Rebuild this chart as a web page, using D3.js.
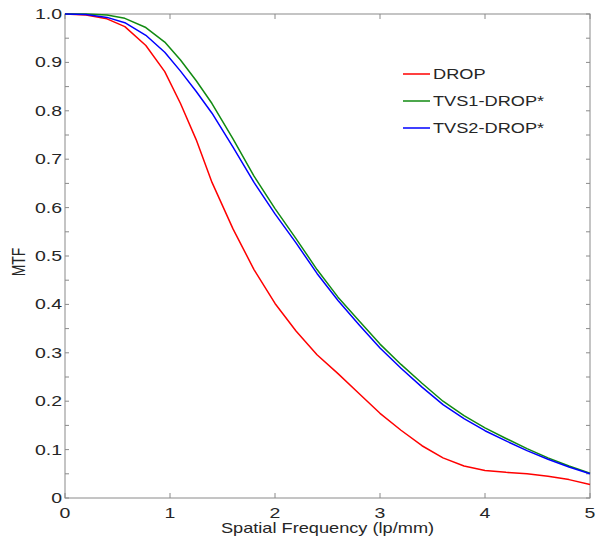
<!DOCTYPE html>
<html>
<head>
<meta charset="utf-8">
<script src="https://cdn.jsdelivr.net/npm/d3@7"></script>
<style>
  body { margin: 0; background: #fff; }
  text { font-family: "Liberation Sans", Arial, sans-serif; fill: #262626; }
</style>
</head>
<body>
<script>
// spatial frequency samples (lp/mm)
var freq = [0, 0.2, 0.4, 0.57, 0.77, 0.95, 1.1, 1.25, 1.4, 1.6, 1.8, 2.0, 2.2, 2.4, 2.6, 2.8, 3.0, 3.2, 3.4, 3.6, 3.8, 4.0, 4.2, 4.4, 4.6, 4.8, 5.0];
// MTF values
var drop = [1.0, 0.998, 0.99, 0.974, 0.935, 0.881, 0.815, 0.74, 0.652, 0.556, 0.472, 0.402, 0.345, 0.296, 0.257, 0.216, 0.175, 0.14, 0.108, 0.083, 0.066, 0.057, 0.053, 0.05, 0.045, 0.038, 0.028];
var tvs1 = [1.0, 1.0, 0.998, 0.991, 0.972, 0.942, 0.905, 0.862, 0.815, 0.742, 0.665, 0.598, 0.536, 0.472, 0.415, 0.366, 0.318, 0.276, 0.237, 0.2, 0.17, 0.145, 0.123, 0.102, 0.083, 0.066, 0.051];
var tvs2 = [1.0, 0.999, 0.993, 0.982, 0.956, 0.921, 0.882, 0.84, 0.795, 0.725, 0.652, 0.587, 0.527, 0.464, 0.408, 0.358, 0.31, 0.268, 0.229, 0.193, 0.164, 0.139, 0.118, 0.098, 0.08, 0.064, 0.05];
var seriesNames = ["DROP", "TVS1-DROP*", "TVS2-DROP*"];
var seriesColors = ["#ff0000", "#118a11", "#0000ff"];
var xTicks = [0, 1, 2, 3, 4, 5];
var yTickLabels = ["0", "0.1", "0.2", "0.3", "0.4", "0.5", "0.6", "0.7", "0.8", "0.9", "1.0"];

var width = 597, height = 546;
var plotLeft = 65, plotRight = 590, plotTop = 14, plotBottom = 498;
var sx = 1.3; // picture is stretched sideways

var svg = d3.select("body").append("svg")
    .attr("width", width)
    .attr("height", height);

var x = d3.scaleLinear().domain([0, 5]).range([plotLeft, plotRight]);
var y = d3.scaleLinear().domain([0, 1]).range([plotBottom, plotTop]);

// frame
svg.append("rect")
    .attr("x", plotLeft).attr("y", plotTop)
    .attr("width", plotRight - plotLeft).attr("height", plotBottom - plotTop)
    .attr("fill", "none")
    .attr("stroke", "#8a8a8a")
    .attr("stroke-width", 1);

// y ticks every 0.05, inward on both sides
var yMinor = d3.range(0, 21).map(function (i) { return i * 0.05; });
yMinor.forEach(function (v) {
    svg.append("line").attr("x1", plotLeft).attr("x2", plotLeft + 4)
        .attr("y1", y(v)).attr("y2", y(v)).attr("stroke", "#8a8a8a");
    svg.append("line").attr("x1", plotRight - 4).attr("x2", plotRight)
        .attr("y1", y(v)).attr("y2", y(v)).attr("stroke", "#8a8a8a");
});
// x ticks
xTicks.forEach(function (v) {
    svg.append("line").attr("x1", x(v)).attr("x2", x(v))
        .attr("y1", plotBottom).attr("y2", plotBottom - 5).attr("stroke", "#8a8a8a");
    svg.append("line").attr("x1", x(v)).attr("x2", x(v))
        .attr("y1", plotTop).attr("y2", plotTop + 5).attr("stroke", "#8a8a8a");
});

// tick labels
yTickLabels.forEach(function (t, i) {
    svg.append("text")
        .attr("transform", "translate(" + (plotLeft - 3) + "," + (y(i / 10) + 5) + ") scale(" + sx + ",1)")
        .attr("text-anchor", "end")
        .style("font-size", "15px")
        .text(t);
});
xTicks.forEach(function (v) {
    svg.append("text")
        .attr("transform", "translate(" + x(v) + ",518) scale(" + sx + ",1)")
        .attr("text-anchor", "middle")
        .style("font-size", "15px")
        .text(v);
});

// axis titles
svg.append("text")
    .attr("transform", "translate(" + ((plotLeft + plotRight) / 2) + ",533) scale(" + sx + ",1)")
    .attr("text-anchor", "middle")
    .style("font-size", "14px")
    .text("Spatial Frequency (lp/mm)");
svg.append("text")
    .attr("transform", "translate(25," + ((plotTop + plotBottom) / 2 + 6) + ") scale(" + sx + ",1) rotate(-90)")
    .attr("text-anchor", "middle")
    .style("font-size", "14px")
    .text("MTF");

// curves
var line = d3.line()
    .x(function (d) { return x(d[0]); })
    .y(function (d) { return y(d[1]); });
[drop, tvs1, tvs2].forEach(function (vals, k) {
    svg.append("path")
        .datum(freq.map(function (f, i) { return [f, vals[i]]; }))
        .attr("d", line)
        .attr("fill", "none")
        .attr("stroke", seriesColors[k])
        .attr("stroke-width", 1.5)
        .attr("stroke-linejoin", "round");
});

// legend
var legend = svg.append("g");
seriesNames.forEach(function (name, k) {
    var ly = 74 + k * 27;
    legend.append("line")
        .attr("x1", 403).attr("x2", 430)
        .attr("y1", ly).attr("y2", ly)
        .attr("stroke", seriesColors[k])
        .attr("stroke-width", 1.5);
    legend.append("text")
        .attr("transform", "translate(433," + (ly + 5) + ") scale(" + sx + ",1)")
        .style("font-size", "14px")
        .text(name);
});
</script>
</body>
</html>
